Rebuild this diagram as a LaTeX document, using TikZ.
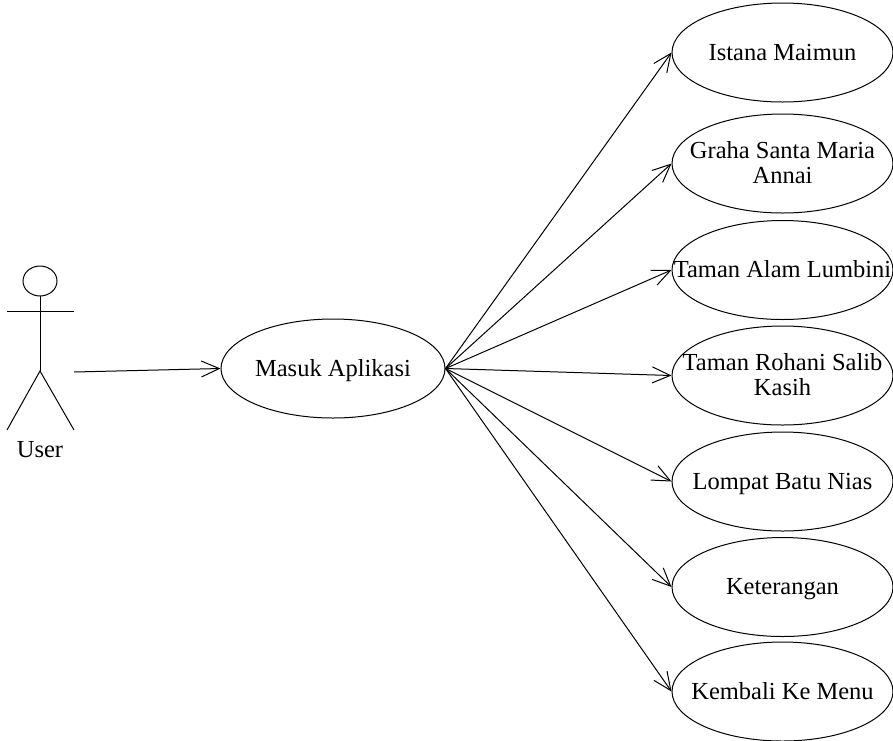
\documentclass[tikz,border=0pt]{standalone}
\usepackage{fontspec}
\setmainfont{Liberation Serif}
\usetikzlibrary{shapes.geometric,arrows.meta}

\tikzset{
  usecase/.style={draw, ellipse, inner sep=0pt, minimum width=221pt, minimum height=99pt,
    font=\fontsize{24.5}{25}\selectfont},
  assoc/.style={-{Straight Barb[length=18pt,width=16pt]}},
  stick/.style={line width=1pt}
}
% centred label that does not widen the ellipse; the extra head room sets it a little lower
\newcommand{\uclabel}[1]{\makebox[0pt][c]{\raisebox{0pt}[\dimexpr\height+5pt\relax]{\begin{tabular}{@{}c@{}}#1\end{tabular}}}}

\begin{document}
\begin{tikzpicture}[x=1pt, y=-1pt, line width=1pt]
  \useasboundingbox (0,0) rectangle (893,740);

  % actor
  \draw[stick] (40,281) ellipse [x radius=17, y radius=15];
  \draw[stick] (40,296) -- (40,371);
  \draw[stick] (7,311) -- (74,311);
  \draw[stick] (7,430) -- (40,371) -- (74,430);
  \node[anchor=base, font=\fontsize{24.5}{25}\selectfont] (user) at (40,457) {User};
  \coordinate (hand) at (74,372);

  % main use case
  \node[usecase, minimum width=224pt] (masuk) at (333,368.5) {\uclabel{Masuk Aplikasi}};

  % menu use cases
  \node[usecase] (istana)   at (782.5,52.5) {\uclabel{Istana Maimun}};
  \node[usecase] (graha)    at (782.5,163.5) {\uclabel{Graha Santa Maria\\Annai}};
  \node[usecase] (lumbini)  at (782.5,270) {\uclabel{Taman Alam Lumbini}};
  \node[usecase] (rohani)   at (782.5,375.5) {\uclabel{Taman Rohani Salib\\Kasih}};
  \node[usecase] (nias)     at (782.5,481.5) {\uclabel{Lompat Batu Nias}};
  \node[usecase] (ket)      at (782.5,587) {\uclabel{Keterangan}};
  \node[usecase] (kembali)  at (782.5,691.5) {\uclabel{Kembali Ke Menu}};

  % associations
  \draw[assoc] (hand) -- (masuk.west);
  \foreach \t in {istana,graha,lumbini,rohani,nias,ket,kembali}
    \draw[assoc] (masuk.east) -- (\t.west);
\end{tikzpicture}
\end{document}
